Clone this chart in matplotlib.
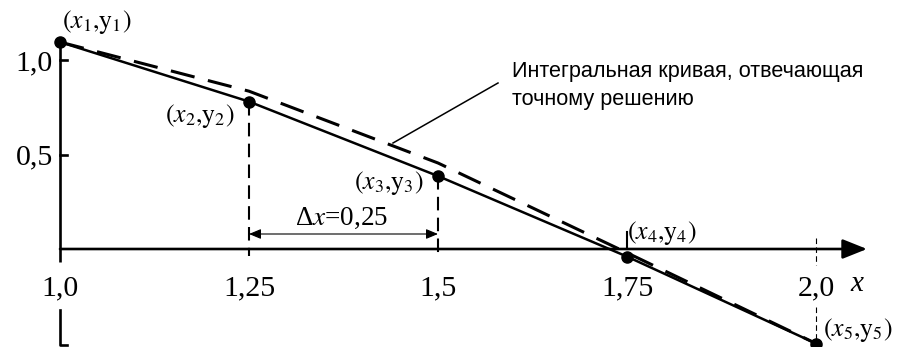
import matplotlib
matplotlib.use("Agg")
import matplotlib.pyplot as plt

# Euler method nodes and values
x_nodes = [1.0, 1.25, 1.5, 1.75, 2.0]
y_euler = [1.095, 0.78, 0.386, -0.04, -0.50]
# exact solution (integral curve)
y_exact = [1.095, 0.835, 0.455, -0.02, -0.50]

x_tick_labels = ["1,0", "1,25", "1,5", "1,75", "2,0"]
y_ticks = [1.0, 0.5]
y_tick_labels = ["1,0", "0,5"]
point_labels = [r"$(x_1{,}\mathrm{y}_1)$", r"$(x_2{,}\mathrm{y}_2)$",
                r"$(x_3{,}\mathrm{y}_3)$", r"$(x_4{,}\mathrm{y}_4)$",
                r"$(x_5{,}\mathrm{y}_5)$"]
step_label = r"Δ$x$=0,25"
note_lines = ["Интегральная кривая, отвечающая", "точному решению"]

plt.rcParams["mathtext.fontset"] = "stix"
plt.rcParams["font.family"] = ["Liberation Serif", "DejaVu Serif"]

W, H = 906, 347
fig = plt.figure(figsize=(W / 100, H / 100), dpi=100)
ax = fig.add_axes([0, 0, 1, 1])
ax.set_axis_off()

# pixel scale of the drawing: 756 px per x unit, 189 px per y unit
SX, SY = 756.0, 189.0
X0PX, Y0PX = 60.0, 249.0
ax.set_xlim(1.0 - X0PX / SX, 1.0 + (W - X0PX) / SX)
ax.set_ylim(-(H - Y0PX) / SY, Y0PX / SY)

px = 1.0 / SX
py = 1.0 / SY
black = "black"

# y axis (with the short stroke below the x axis)
ax.plot([1.0, 1.0], [y_euler[0], -13 * py], color=black, lw=1.9, solid_capstyle="butt")
ax.plot([1.0, 1.0, 1.0 + 7 * px], [-61 * py, -96 * py, -96 * py], color=black, lw=1.9)
for yt, lab in zip(y_ticks, y_tick_labels):
    ax.plot([1.0, 1.0 + 7 * px], [yt, yt], color=black, lw=1.9)
    ax.text(1.0 - 7 * px, yt - 3 * py, lab, ha="right", va="center", fontsize=21.5)

# x axis with arrow
ax.annotate("", xy=(1.0 + 807 * px, 0), xytext=(1.0, 0),
            arrowprops=dict(arrowstyle="-|>,head_length=1.5,head_width=0.6",
                            mutation_scale=10, lw=1.9, color=black,
                            shrinkA=0, shrinkB=0))
ax.text(1.0 + 797 * px, -35 * py, "x", ha="center", va="center",
        fontsize=21, style="italic")
for xt, lab in zip(x_nodes, x_tick_labels):
    ax.text(xt, -39 * py, lab, ha="center", va="center", fontsize=21.5)
ax.plot([x_nodes[3], x_nodes[3]], [0, 17 * py], color=black, lw=1.5)

# vertical dashed drop lines
ax.plot([x_nodes[1], x_nodes[1]], [y_euler[1], -7 * py], color=black, lw=1.5,
        dashes=(6.5, 3.5))
ax.plot([x_nodes[2], x_nodes[2]], [y_euler[2], -4 * py], color=black, lw=1.5,
        dashes=(6.5, 3.5))
ax.plot([x_nodes[4], x_nodes[4]], [11 * py, -16 * py], color=black, lw=0.8,
        dashes=(5, 3))
ax.plot([x_nodes[4], x_nodes[4]], [-58 * py, y_euler[4]], color=black, lw=0.8,
        dashes=(5, 3))

# exact integral curve (dashed) and Euler polyline (solid)
ax.plot(x_nodes, y_exact, color=black, lw=2.2, dashes=(8, 4.5))
ax.plot(x_nodes, y_euler, color=black, lw=1.8)
ax.plot(x_nodes, y_euler, "o", color=black, markersize=8, clip_on=False)

# point labels
offsets = [(37, 20), (-49, -14), (-49, -7), (35, 24), (42, 14)]
for xn, yn, lab, (dx, dy) in zip(x_nodes, y_euler, point_labels, offsets):
    ax.annotate(lab, xy=(xn, yn), xytext=(dx, dy), textcoords="offset pixels",
                ha="center", va="center", fontsize=18.5)

# step dimension
ax.annotate("", xy=(x_nodes[2], 15 * py), xytext=(x_nodes[1], 15 * py),
            arrowprops=dict(arrowstyle="<|-|>,head_length=0.72,head_width=0.3",
                            mutation_scale=10, lw=0.8, color=black,
                            shrinkA=0, shrinkB=0))
ax.text((x_nodes[1] + x_nodes[2]) / 2 - 2 * px, 31 * py, step_label, ha="center",
        va="center", fontsize=19.5)

# leader line and note
ax.plot([1.0 + 333 * px, 1.0 + 438 * px], [106 * py, 166 * py], color=black, lw=1.1)
for i, line in enumerate(note_lines):
    ax.text(1.0 + 452 * px, (177 - 28 * i) * py, line, ha="left", va="center",
            fontsize=15.6, family=["Liberation Sans", "DejaVu Sans"])

fig.savefig("out.png", dpi=100)
